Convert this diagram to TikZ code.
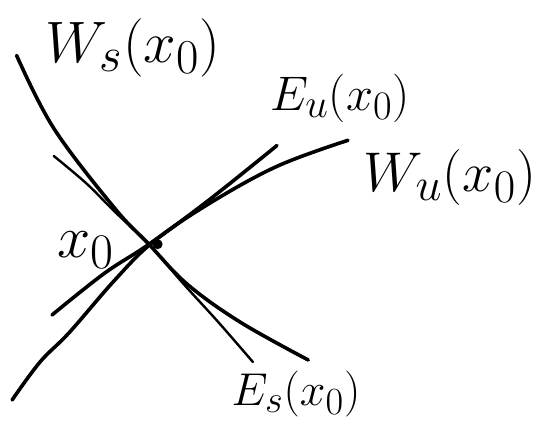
\documentclass[tikz,border=0pt]{standalone}
\usepackage{graphicx}
\newcommand{\handlab}[2]{\scalebox{#1}{\Huge$#2$}}
\begin{document}
\begin{tikzpicture}[x=1pt, y=-1pt,
    mani/.style={line width=3.6pt, line cap=round},
    tang/.style={line width=2.4pt, line cap=round}]
    \useasboundingbox (0,0) rectangle (541,421);

    \draw[mani] plot[smooth, tension=0.6] coordinates {(16.6,55.4) (53.7,128.2) (114.3,207.8) (148.9,244.2) (187,284) (240,322) (308.3,360)};
    \draw[tang] plot[smooth, tension=0.6] coordinates {(53.7,155.9) (86.6,183.6) (114.3,211.3) (148.9,244.2) (183.6,284) (218.2,322) (252.9,362)};
    \draw[mani] plot[smooth, tension=0.6] coordinates {(52,315) (104,273.6) (149,244.2) (207.8,200.9) (277,145.5)};
    \draw[mani] plot[smooth, tension=0.6] coordinates {(12.1,400) (40,362) (69.3,332.5) (114.3,280.6) (152.4,242.5) (207.8,204.4) (277,166.3) (348,140.3)};

    \fill (157.6,244.2) circle (5pt);
    \node (ws) at (133,48) {\handlab{2.35}{W_s(x_0)}};
    \node (eu) at (340,98) {\handlab{1.95}{E_u(x_0)}};
    \node (wu) at (450,178) {\handlab{2.25}{W_u(x_0)}};
    \node (x0) at (86,250) {\handlab{2.4}{x_0}};
    \node (es) at (296,394) {\handlab{1.85}{E_s(x_0)}};
\end{tikzpicture}
\end{document}
